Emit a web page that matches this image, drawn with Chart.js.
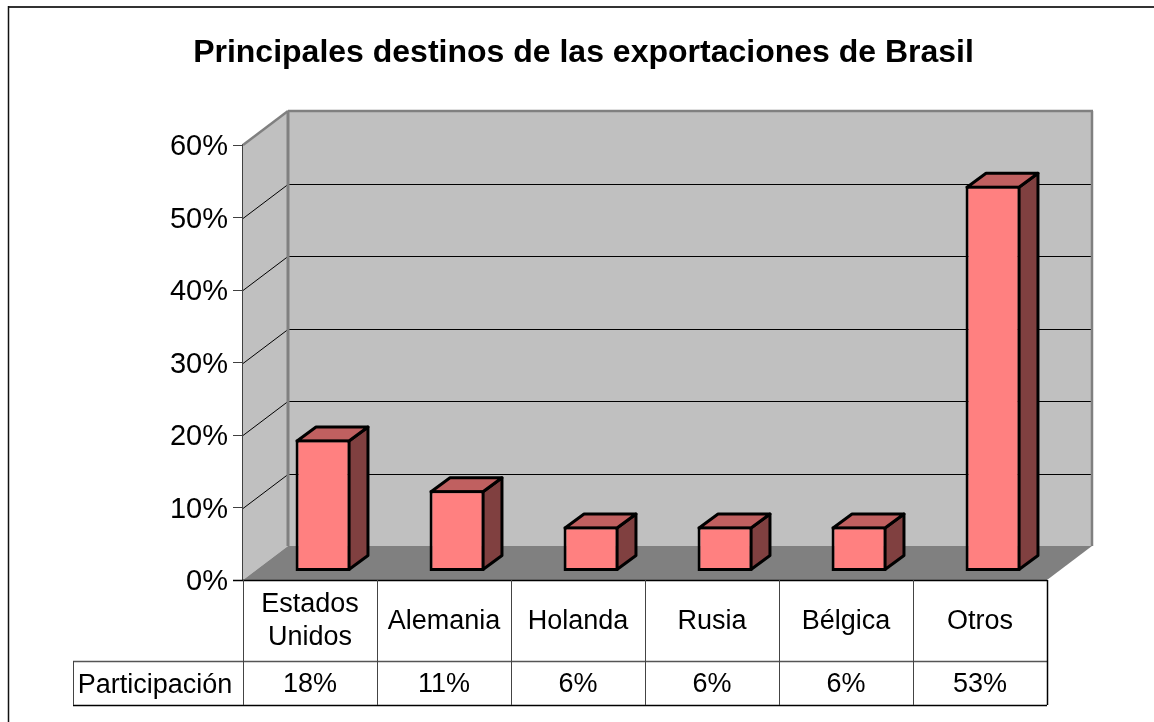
<!DOCTYPE html>
<html>
<head>
<meta charset="utf-8">
<title>Principales destinos de las exportaciones de Brasil</title>
<script src="https://cdn.jsdelivr.net/npm/chart.js@4/dist/chart.umd.min.js"></script>
<style>
  html, body { margin: 0; padding: 0; background: #fff; }
  #wrap { width: 1154px; height: 722px; }
</style>
</head>
<body>
<div id="wrap"><canvas id="chart" width="1154" height="722"></canvas></div>
<script>
const categories = [["Estados", "Unidos"], ["Alemania"], ["Holanda"], ["Rusia"], ["Bélgica"], ["Otros"]];
const seriesName = "Participación";
const values = [18, 11, 6, 6, 6, 53];
const valueLabels = ["18%", "11%", "6%", "6%", "6%", "53%"];
const yTicks = [0, 10, 20, 30, 40, 50, 60];

const FONT = '"Liberation Sans", Arial, sans-serif';
// depth of the fake 3d box
const wallDx = 45, wallDy = -34;
const barDx = 19, barDy = -14;
const barShiftX = 13, barShiftY = -10;
const barLine = 3;

function poly(ctx, pts, fill, stroke, lw) {
  ctx.beginPath();
  pts.forEach((p, i) => i ? ctx.lineTo(p[0], p[1]) : ctx.moveTo(p[0], p[1]));
  ctx.closePath();
  if (fill) { ctx.fillStyle = fill; ctx.fill(); }
  if (stroke) { ctx.strokeStyle = stroke; ctx.lineWidth = lw; ctx.lineJoin = "round"; ctx.stroke(); }
}

function line(ctx, x1, y1, x2, y2, color, lw) {
  ctx.beginPath();
  ctx.moveTo(x1, y1);
  ctx.lineTo(x2, y2);
  ctx.strokeStyle = color;
  ctx.lineWidth = lw;
  ctx.stroke();
}

const box3d = {
  id: "box3d",
  beforeDatasetsDraw(chart) {
    const ctx = chart.ctx, y = chart.scales.y, a = chart.chartArea;
    const L = a.left, R = a.right, T = a.top, B = a.bottom;
    ctx.save();
    // frame, only top and left show in the picture
    line(ctx, 8, 7, 1154, 7, "#333", 2);
    line(ctx, 8.5, 6, 8.5, 722, "#111", 1.5);
    // side wall, back wall, floor
    poly(ctx, [[L, T], [L + wallDx, T + wallDy], [L + wallDx, B + wallDy], [L, B]], "#C0C0C0");
    poly(ctx, [[L + wallDx, T + wallDy], [R + wallDx, T + wallDy], [R + wallDx, B + wallDy], [L + wallDx, B + wallDy]], "#C0C0C0");
    poly(ctx, [[L, B], [L + wallDx, B + wallDy], [R + wallDx, B + wallDy], [R, B]], "#808080");
    // grid lines over the walls
    yTicks.forEach(v => {
      if (v === 0 || v === 60) return;
      const py = Math.round(y.getPixelForValue(v)) + 0.5;
      line(ctx, L, py, L + wallDx, py + wallDy, "#000", 1);
      line(ctx, L + wallDx, py + wallDy, R + wallDx, py + wallDy, "#000", 1);
    });
    // wall edges
    line(ctx, L, T, L + wallDx, T + wallDy, "#808080", 2.5);
    line(ctx, L + wallDx, T + wallDy, R + wallDx + 1, T + wallDy, "#808080", 2.5);
    line(ctx, L + wallDx, T + wallDy, L + wallDx, B + wallDy, "#808080", 3);
    line(ctx, R + wallDx, T + wallDy, R + wallDx, B + wallDy, "#808080", 2.5);
    // side and top faces of the bars
    const inset = barLine / 2;
    chart.getDatasetMeta(0).data.forEach(bar => {
      const x1 = bar.x - bar.width / 2 + barShiftX + inset, x2 = bar.x + bar.width / 2 + barShiftX - inset;
      const top = bar.y + barShiftY + inset, base = bar.base + barShiftY - inset;
      poly(ctx, [[x2, top], [x2 + barDx, top + barDy], [x2 + barDx, base + barDy], [x2, base]], "#804040", "#000", barLine);
      poly(ctx, [[x1, top], [x1 + barDx, top + barDy], [x2 + barDx, top + barDy], [x2, top]], "#C06060", "#000", barLine);
    });
    ctx.restore();
    // front faces come from the library, only moved into the box
    ctx.save();
    ctx.translate(barShiftX, barShiftY);
  },
  afterDatasetsDraw(chart) {
    chart.ctx.restore();
    drawTable(chart);
  }
};

// data table under the plot
function drawTable(chart) {
  const ctx = chart.ctx, x = chart.scales.x, a = chart.chartArea;
  const rowTop = a.bottom, rowMid = 661, rowEnd = 705, nameLeft = 73;
  const step = (a.right - a.left) / categories.length;
  ctx.save();
  const hl = (x1, x2, py, c, w) => line(ctx, x1, py + 0.5, x2, py + 0.5, c, w);
  const vl = (px, y1, y2, c, w) => line(ctx, Math.round(px) + 0.5, y1, Math.round(px) + 0.5, y2, c, w);
  hl(a.left - 10, a.right, rowTop, "#000", 1.5);
  hl(nameLeft, a.right, rowMid, "#555", 1.5);
  hl(nameLeft, a.right, rowEnd, "#000", 1.5);
  vl(nameLeft, rowMid, rowEnd, "#444", 1);
  for (let i = 0; i <= categories.length; i++) {
    const last = i === categories.length;
    vl(a.left + i * step, rowTop, rowEnd, last ? "#000" : "#444", last ? 1.5 : 1);
  }
  ctx.fillStyle = "#000";
  ctx.font = "27px " + FONT;
  ctx.textAlign = "center";
  ctx.textBaseline = "middle";
  categories.forEach((lab, i) => {
    const px = x.getPixelForValue(i);
    const lh = 33, cy = 621.5 - (lab.length - 1) * lh / 2;
    lab.forEach((t, j) => ctx.fillText(t, px, cy + j * lh));
    ctx.fillText(valueLabels[i], px, 685);
  });
  ctx.fillText(seriesName, (nameLeft + a.left) / 2 - 3, 686);
  ctx.restore();
}

new Chart(document.getElementById("chart"), {
  type: "bar",
  data: {
    labels: categories,
    datasets: [{
      label: seriesName,
      data: values,
      base: -0.14,
      backgroundColor: "#FF8080",
      borderColor: "#000",
      borderWidth: barLine,
      borderSkipped: false,
      barPercentage: 0.41,
      categoryPercentage: 1,
      clip: false
    }]
  },
  plugins: [box3d],
  options: {
    responsive: false,
    animation: false,
    layout: { padding: { left: 13, right: 0, top: 0, bottom: 0 } },
    plugins: {
      legend: { display: false },
      tooltip: { enabled: false },
      title: {
        display: true,
        text: "Principales destinos de las exportaciones de Brasil",
        color: "#000",
        font: { family: FONT, size: 32, weight: "bold" },
        padding: { top: 34, bottom: 72.6 }
      }
    },
    scales: {
      x: {
        grid: { display: false },
        border: { display: false },
        ticks: { display: false },
        afterFit(s) { s.height = 142; }
      },
      y: {
        min: 0,
        max: 60,
        afterBuildTicks(s) { s.ticks = yTicks.map(v => ({ value: v })); },
        grid: { drawOnChartArea: false, tickLength: 10, color: "#404040", lineWidth: 1 },
        border: { display: true, color: "#404040", width: 2 },
        ticks: {
          color: "#000",
          font: { family: FONT, size: 29 },
          padding: 5,
          labelOffset: 2,
          callback: v => v + "%"
        },
        afterFit(s) { s.width = 230; }
      },
      pad: {
        position: "right",
        grid: { display: false },
        border: { display: false },
        ticks: { display: false },
        afterFit(s) { s.width = 107; }
      }
    }
  }
});
</script>
</body>
</html>
